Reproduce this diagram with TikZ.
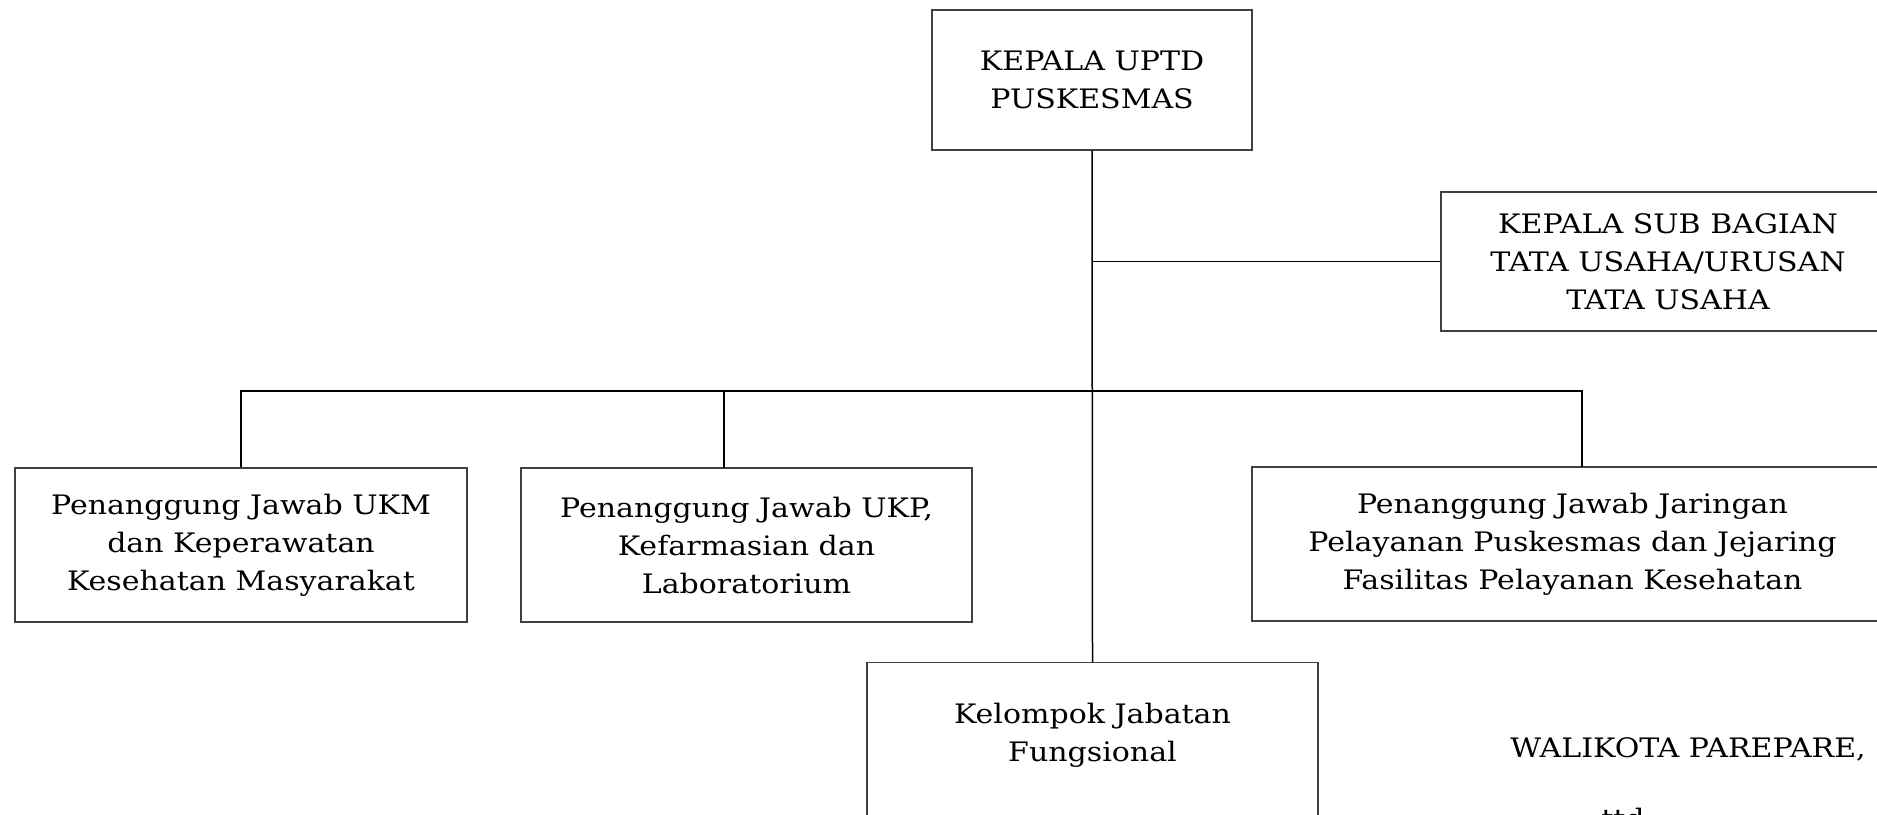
\documentclass[tikz,border=0pt]{standalone}
\usepackage{fontspec}
\setmainfont[FakeStretch=1.12]{DejaVu Serif}
\tikzset{
  unit/.style={draw=black!75, line width=0.7pt, align=center, inner sep=0pt,
    font=\fontsize{13.4}{19}\selectfont},
  link/.style={line width=0.75pt, black}
}
\begin{document}
\begin{tikzpicture}[x=0.5pt,y=-0.5pt]
\useasboundingbox (0,0) rectangle (1877,814);
\clip (0,0) rectangle (1877,814);
% boxes
\node[unit, minimum width=160pt, minimum height=70pt] (kepala) at (1092,80) {KEPALA UPTD\\PUSKESMAS};
\node[unit, minimum width=227pt, minimum height=69.5pt] (subbag) at (1668,261.5) {KEPALA SUB BAGIAN\\TATA USAHA/URUSAN\\TATA USAHA};
\node[unit, minimum width=226pt, minimum height=77pt] (ukm) at (241,545) {Penanggung Jawab UKM\\dan Keperawatan\\Kesehatan Masyarakat};
\node[unit, minimum width=225.5pt, minimum height=77pt] (ukp) at (746.5,545) {Penanggung Jawab UKP,\\Kefarmasian dan\\Laboratorium};
\node[unit, minimum width=320.5pt, minimum height=77pt] (jar) at (1572.5,544) {Penanggung Jawab Jaringan\\Pelayanan Puskesmas dan Jejaring\\Fasilitas Pelayanan Kesehatan};
\node[unit, minimum width=225.5pt, minimum height=100pt, anchor=north] (kel) at (1092.5,662) {};
\node[unit, draw=none] (keltext) at (1092.5,735) {Kelompok Jabatan\\Fungsional};
% drop points on the bus
\coordinate (bus) at (1092,391);
\coordinate (ukpdrop) at (724,468);
\coordinate (jardrop) at (1582,467);
% connectors
\draw[link] (kepala.south) -- (kel.north);
\draw[link] (kepala.south |- subbag.west) -- (subbag.west);
\draw[link] (ukm.north) |- (jardrop |- bus) -- (jardrop);
\draw[link] (ukpdrop) -- (ukpdrop |- bus);
% signature
\node[unit, draw=none] (walikota) at (1688,749) {WALIKOTA PAREPARE,};
\node[unit, draw=none, anchor=north] (ttd) at (1623,807) {ttd};
\end{tikzpicture}
\end{document}
